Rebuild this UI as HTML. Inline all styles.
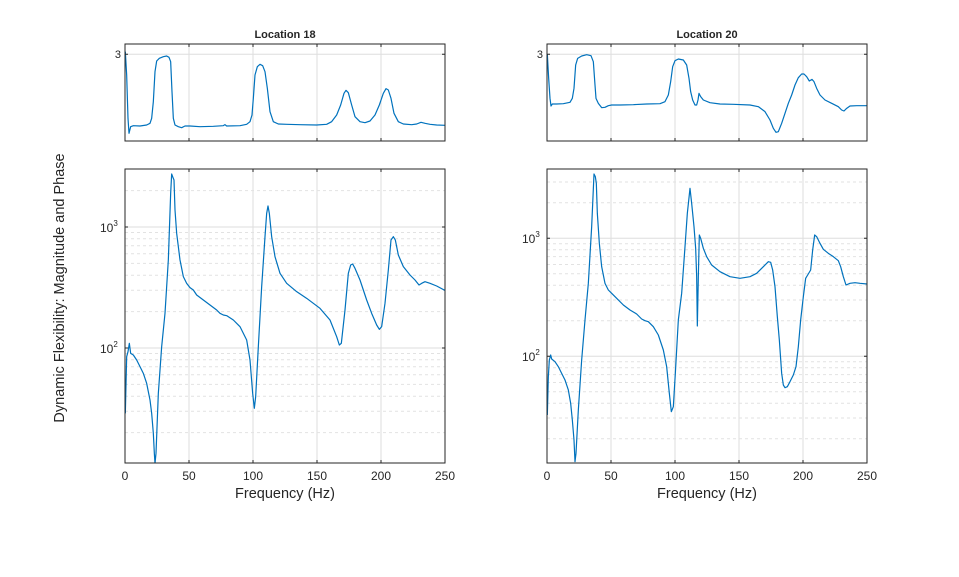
<!DOCTYPE html>
<html><head><meta charset="utf-8"><style>
html,body{margin:0;padding:0;background:#fff;}
svg{display:block;font-family:"Liberation Sans",sans-serif;}
</style></head><body>
<svg width="959" height="577" viewBox="0 0 959 577" xmlns="http://www.w3.org/2000/svg">
<rect width="959" height="577" fill="#fff"/>
<defs>
<clipPath id="cl1"><rect x="125" y="44" width="320" height="97"/></clipPath>
<clipPath id="cl2"><rect x="125" y="169" width="320" height="294"/></clipPath>
<clipPath id="cr1"><rect x="547" y="44" width="320" height="97"/></clipPath>
<clipPath id="cr2"><rect x="547" y="169" width="320" height="294"/></clipPath>
</defs>
<g stroke="#dedede" stroke-width="1" fill="none">
<path d="M189,44V141M253,44V141M317,44V141M381,44V141M189,169V463M253,169V463M317,169V463M381,169V463"/>
<path d="M611,44V141M675,44V141M739,44V141M803,44V141M611,169V463M675,169V463M739,169V463M803,169V463"/>
<path d="M125,54.3H445M547,54.3H867"/>
<path d="M125,227H445M125,348H445M547,238.3H867M547,356.3H867"/>
</g>
<g stroke="#e2e2e2" stroke-width="1" fill="none" stroke-dasharray="3,3">
<path d="M125,432.6H445M125,411.3H445M125,396.2H445M125,384.4H445M125,374.8H445M125,366.7H445M125,359.7H445M125,353.5H445M125,311.6H445M125,290.3H445M125,275.2H445M125,263.4H445M125,253.8H445M125,245.7H445M125,238.7H445M125,232.5H445M125,190.6H445"/>
<path d="M547,438.8H867M547,418H867M547,403.3H867M547,391.8H867M547,382.5H867M547,374.6H867M547,367.7H867M547,361.7H867M547,320.8H867M547,300H867M547,285.3H867M547,273.8H867M547,264.5H867M547,256.6H867M547,249.7H867M547,243.7H867M547,202.8H867M547,182H867"/>
</g>
<g fill="none" stroke="#0072BD" stroke-width="1.2" stroke-linejoin="round">
<g clip-path="url(#cl1)"><polyline vector-effect="non-scaling-stroke" transform="translate(100,25) scale(0.33333)" points="76,80 80,150 84,280 87,325 92,305 100,302 120,303 140,300 150,295 155,280 160,230 165,140 170,108 178,100 190,95 200,93 207,97 212,110 216,200 220,280 225,300 235,305 245,308 255,303 270,303 300,305 340,304 370,302 375,299 380,303 420,302 440,298 450,290 456,270 460,220 465,150 472,125 480,118 488,122 495,140 502,190 510,260 520,290 535,297 560,298 600,299 650,300 680,298 695,290 710,270 722,240 732,205 738,196 745,203 755,240 765,275 780,290 795,293 810,288 825,270 838,240 850,205 858,191 865,195 873,220 882,265 895,290 910,297 935,299 950,297 963,292 975,295 990,298 1010,300 1036,301"/></g>
<g clip-path="url(#cl2)"><polyline vector-effect="non-scaling-stroke" transform="translate(100,160) scale(0.33333)" points="76,760 80,590 84,575 88,550 92,580 100,585 110,600 120,620 130,640 140,670 150,720 155,760 160,820 163,880 165,910 168,880 175,700 185,560 195,460 205,300 212,100 215,42 218,50 222,60 225,150 230,220 240,300 250,350 260,370 270,383 280,390 290,405 310,420 330,435 350,450 360,460 370,465 380,467 400,480 420,500 440,540 450,600 458,700 463,745 467,710 475,560 485,380 495,230 500,160 504,138 508,160 515,230 525,290 540,340 560,370 590,395 620,415 660,445 690,480 710,530 718,555 724,550 735,450 745,340 752,315 758,312 765,325 780,360 790,390 800,420 815,460 830,495 838,508 845,500 855,430 865,330 873,240 880,230 886,240 895,285 910,320 930,345 945,360 957,375 965,370 975,365 990,370 1010,378 1036,392"/></g>
<g clip-path="url(#cr1)"><polyline vector-effect="non-scaling-stroke" transform="translate(520,25) scale(0.33333)" points="82,88 86,160 90,220 93,243 97,237 110,237 130,236 150,232 157,220 162,190 167,120 173,100 185,93 200,89 213,92 220,110 225,180 228,220 235,235 245,248 255,247 265,242 275,240 300,240 340,239 380,237 420,236 435,230 445,210 452,170 458,125 465,107 475,102 490,105 500,120 507,160 512,200 518,225 525,240 530,240 534,225 537,205 542,215 550,225 570,233 600,237 640,238 690,240 715,245 735,260 750,285 760,310 768,322 775,320 785,295 795,265 805,235 815,210 825,180 835,158 845,147 852,147 860,155 868,168 876,163 882,170 890,190 900,210 915,225 935,235 955,245 965,255 972,258 980,250 990,243 1010,242 1042,242"/></g>
<g clip-path="url(#cr2)"><polyline vector-effect="non-scaling-stroke" transform="translate(520,160) scale(0.33333)" points="82,765 85,650 88,600 92,585 95,597 105,605 115,620 125,640 135,660 145,690 152,730 157,780 162,840 165,905 168,880 175,750 185,600 195,480 205,370 215,200 222,42 226,50 229,70 232,160 238,250 245,320 255,370 265,390 275,400 290,415 310,435 330,450 350,462 365,477 375,482 385,485 400,500 415,525 430,570 440,620 448,700 454,755 460,740 466,640 475,480 485,400 495,260 502,160 510,85 515,130 522,200 527,265 530,350 532,498 535,350 538,225 542,235 550,265 560,290 575,315 600,335 630,350 660,355 690,350 710,340 730,320 745,305 752,307 758,330 765,380 772,470 778,540 785,640 790,675 795,683 802,680 810,665 820,645 828,620 835,560 842,480 850,410 857,355 863,345 872,330 878,270 884,225 890,230 900,250 910,268 925,280 940,290 955,302 962,320 970,350 978,375 990,370 1005,368 1020,370 1042,372"/></g>
</g>
<g fill="none" stroke="#262626" stroke-width="1">
<rect x="125" y="44" width="320" height="97"/>
<rect x="125" y="169" width="320" height="294"/>
<rect x="547" y="44" width="320" height="97"/>
<rect x="547" y="169" width="320" height="294"/>
<path d="M189,141v-3M253,141v-3M317,141v-3M381,141v-3M189,44v3M253,44v3M317,44v3M381,44v3M125,54.3h3M442,54.3h3"/>
<path d="M611,141v-3M675,141v-3M739,141v-3M803,141v-3M611,44v3M675,44v3M739,44v3M803,44v3M547,54.3h3M864,54.3h3"/>
<path d="M189,463v-3M253,463v-3M317,463v-3M381,463v-3M189,169v3M253,169v3M317,169v3M381,169v3M125,227h3M125,348h3M442,227h3M442,348h3"/>
<path d="M611,463v-3M675,463v-3M739,463v-3M803,463v-3M611,169v3M675,169v3M739,169v3M803,169v3M547,238.3h3M547,356.3h3M864,238.3h3M864,356.3h3"/>
</g>
<g fill="#262626" font-size="12">
<text x="285" y="38" text-anchor="middle" font-weight="bold" font-size="11">Location 18</text>
<text x="707" y="38" text-anchor="middle" font-weight="bold" font-size="11">Location 20</text>
<text x="121" y="58" text-anchor="end" font-size="11">3</text>
<text x="543" y="58" text-anchor="end" font-size="11">3</text>
<text x="100" y="232">10<tspan font-size="8" dy="-6">3</tspan></text>
<text x="100" y="353">10<tspan font-size="8" dy="-6">2</tspan></text>
<text x="522" y="243">10<tspan font-size="8" dy="-6">3</tspan></text>
<text x="522" y="361">10<tspan font-size="8" dy="-6">2</tspan></text>
<g text-anchor="middle">
<text x="125" y="480">0</text><text x="189" y="480">50</text><text x="253" y="480">100</text><text x="317" y="480">150</text><text x="381" y="480">200</text><text x="445" y="480">250</text>
<text x="547" y="480">0</text><text x="611" y="480">50</text><text x="675" y="480">100</text><text x="739" y="480">150</text><text x="803" y="480">200</text><text x="867" y="480">250</text>
<text x="285" y="498" font-size="14.5">Frequency (Hz)</text>
<text x="707" y="498" font-size="14.5">Frequency (Hz)</text>
<text transform="translate(64,288) rotate(-90)" font-size="14.5">Dynamic Flexibility: Magnitude and Phase</text>
</g>
</g>
</svg>
</body></html>
